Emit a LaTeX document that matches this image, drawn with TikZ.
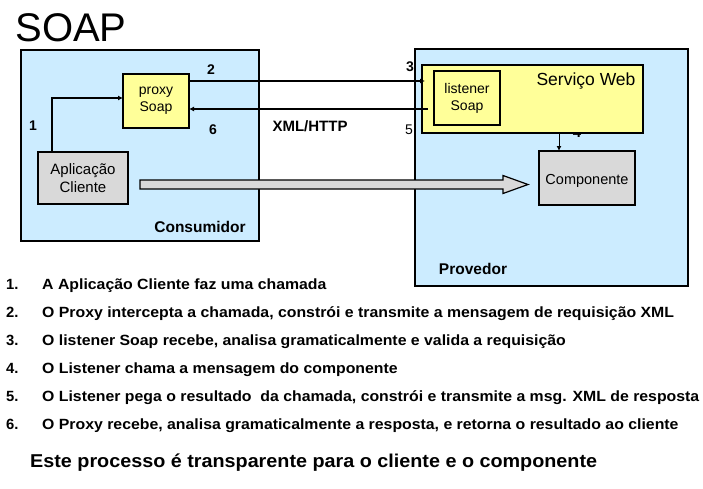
\documentclass[tikz,border=0pt]{standalone}
\usepackage{fontspec}
\setmainfont{Liberation Sans}
\usetikzlibrary{arrows.meta,calc}
\definecolor{lblue}{RGB}{204,236,255}
\definecolor{lyellow}{RGB}{255,255,153}
\definecolor{lgray}{RGB}{217,217,217}
\newcommand{\hsx}[2]{\scalebox{#1}[1]{#2}}
\tikzset{
  zone/.style={draw=black,line width=1.6pt,fill=lblue,inner sep=0,outer sep=0},
  ybox/.style={draw=black,line width=1.6pt,fill=lyellow,inner sep=0,outer sep=0,align=center,font=\fontsize{14}{17}\selectfont},
  gbox/.style={draw=black,line width=1.3pt,fill=lgray,inner sep=0,outer sep=0,align=center},
  arr/.style={line width=1.4pt,-{Latex[length=5pt,width=5pt]}},
  lbl/.style={inner sep=0,font=\fontsize{14}{16}\selectfont\bfseries},
  listnum/.style={inner sep=0,anchor=base west,font=\fontsize{14.8}{16}\selectfont\bfseries},
  listtxt/.style={inner sep=0,anchor=base west,font=\fontsize{14.8}{16}\selectfont\bfseries},
}
\begin{document}
\begin{tikzpicture}[x=1pt,y=-1pt]
\useasboundingbox[fill=white] (0,0) rectangle (703,488);
% title
\node[inner sep=0,font=\fontsize{40}{44}\selectfont] (title) at (71,28) {SOAP};
% zones
\node[zone,minimum width=238pt,minimum height=191pt] (cons) at (140,145.5) {};
\node[zone,minimum width=273pt,minimum height=237pt] (prov) at (551.5,167.5) {};
\node[lbl,font=\fontsize{15.5}{18}\selectfont\bfseries] (consl) at (200,227) {Consumidor};
\node[lbl,font=\fontsize{15.5}{18}\selectfont\bfseries] (provl) at (473,269) {Provedor};
% label 4 partly hidden
\node[lbl,font=\fontsize{15}{18}\selectfont\bfseries] (l4) at (577,132) {4};
% boxes
\node[ybox,minimum width=221pt,minimum height=68pt] (svc) at (532.5,99) {};
\node[inner sep=0,font=\fontsize{17.5}{20}\selectfont] (svcl) at (586,81) {Serviço Web};
\node[ybox,minimum width=66pt,minimum height=54pt] (lis) at (467,98) {listener\\Soap};
\node[gbox,minimum width=96pt,minimum height=54pt] (comp) at (587,178) {};
\node[inner sep=0,font=\fontsize{14.5}{17}\selectfont] (compl) at (587,181) {Componente};
\node[ybox,minimum width=66pt,minimum height=54pt] (proxy) at (156,101) {proxy\\Soap};
\node[gbox,minimum width=90pt,minimum height=52pt,font=\fontsize{15}{18}\selectfont] (app) at (83,178) {Aplicação\\Cliente};
% connectors
\draw[arr] ([xshift=14pt]app.north west) |- ([yshift=3pt]proxy.west);
\draw[arr] ([yshift=-7pt]proxy.north east) -- ([xshift=3pt,yshift=-16pt]svc.north west);
\draw[arr] ([xshift=6pt,yshift=-10pt]svc.west) -- ([yshift=-8pt]proxy.east);
\draw[line width=1pt,-{Latex[length=5pt,width=5pt]}] ([xshift=20pt]comp.north west |- svc.south) -- ([xshift=20pt]comp.north west);
% big hollow arrow
\coordinate (bs) at ($(app.east)+(12pt,-6.5pt)$);
\coordinate (bt) at ($(comp.west)+(-11pt,-6.5pt)$);
\draw[fill=lgray,line width=1.2pt,line join=miter]
  ($(bs)+(0,4.5pt)$) -- ($(bt)+(-25pt,4.5pt)$) -- ($(bt)+(-25pt,9pt)$) -- (bt)
  -- ($(bt)+(-25pt,-9pt)$) -- ($(bt)+(-25pt,-4.5pt)$) -- ($(bs)+(0,-4.5pt)$) -- cycle;
% labels
\node[lbl] (n1) at (33,126) {1};
\node[lbl] (n2) at (211,70) {2};
\node[lbl] (n3) at (410,67) {3};
\node[lbl] (n6) at (213,130) {6};
\node[inner sep=0,font=\fontsize{14}{16}\selectfont] (n5) at (409,130) {5};
\node[lbl,font=\fontsize{15}{18}\selectfont\bfseries] (xml) at (310,126) {XML/HTTP};
% list
\node[listnum] (i1) at (6,289) {1.};
\node[listtxt] (t1) at (42,289) {\hsx{1.07}{A Aplicação Cliente faz uma chamada}};
\node[listnum] (i2) at (6,317) {2.};
\node[listtxt] (t2) at (42,317) {\hsx{1.07}{O Proxy intercepta a chamada, constrói e transmite a mensagem de requisição XML}};
\node[listnum] (i3) at (6,345) {3.};
\node[listtxt] (t3) at (42,345) {\hsx{1.07}{O listener Soap recebe, analisa gramaticalmente e valida a requisição}};
\node[listnum] (i4) at (6,373) {4.};
\node[listtxt] (t4) at (42,373) {\hsx{1.07}{O Listener chama a mensagem do componente}};
\node[listnum] (i5) at (6,401) {5.};
\node[listtxt] (t5) at (42,401) {\hsx{1.07}{O Listener pega o resultado\ \ da chamada, constrói e transmite a msg. XML de resposta}};
\node[listnum] (i6) at (6,429) {6.};
\node[listtxt] (t6) at (42,429) {\hsx{1.07}{O Proxy recebe, analisa gramaticalmente a resposta, e retorna o resultado ao cliente}};
\node[inner sep=0,anchor=base west,font=\fontsize{18.6}{22}\selectfont\bfseries] (fin) at (30,467) {\hsx{1.063}{Este processo é transparente para o cliente e o componente}};
\end{tikzpicture}
\end{document}
